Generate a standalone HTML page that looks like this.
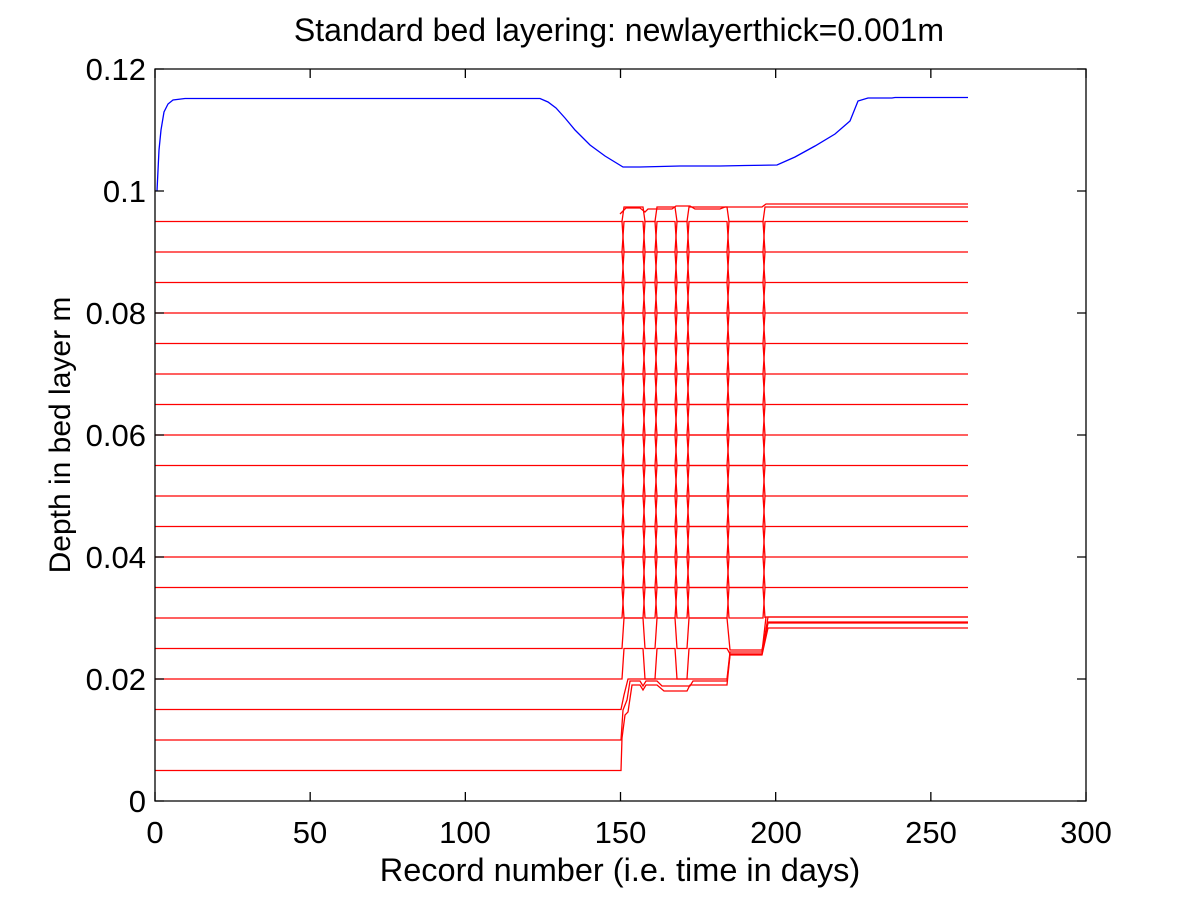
<!DOCTYPE html>
<html><head><meta charset="utf-8"><style>
html,body{margin:0;padding:0;background:#fff}
svg text{font-family:"Liberation Sans",sans-serif;fill:#000}
</style></head><body>
<svg id="s" width="1200" height="900" viewBox="0 0 1200 900" xmlns="http://www.w3.org/2000/svg">
<rect x="0" y="0" width="1200" height="900" fill="#fff"/>
<g id="data" fill="none" stroke-width="1.3"></g>
<path d="M157,191 L159,150 L161,130 L164,112 L168,104 L173,100 L185,98.5 L540,98.5 L548,102 L556,108 L565,118 L575,130 L590,145 L605,156 L623,167 L640,167 L660,166.5 L680,166 L700,166 L720,166 L745,165.5 L777,165 L795,157 L815,146 L835,134 L850,121 L858,101 L868,98 L892,98 L895,97.5 L968,97.5" fill="none" stroke="#0000ff" stroke-width="1.3"/>
<g id="axes" stroke="#000" stroke-width="1.3" fill="none"></g>
<g font-size="31">
<text x="155" y="843" text-anchor="middle">0</text>
<text x="310" y="843" text-anchor="middle">50</text>
<text x="465" y="843" text-anchor="middle">100</text>
<text x="620.5" y="843" text-anchor="middle">150</text>
<text x="776" y="843" text-anchor="middle">200</text>
<text x="931" y="843" text-anchor="middle">250</text>
<text x="1086" y="843" text-anchor="middle">300</text>
<text x="146" y="812" text-anchor="end">0</text>
<text x="146" y="690" text-anchor="end">0.02</text>
<text x="146" y="568" text-anchor="end">0.04</text>
<text x="146" y="446" text-anchor="end">0.06</text>
<text x="146" y="324" text-anchor="end">0.08</text>
<text x="146" y="202" text-anchor="end">0.1</text>
<text x="146" y="80" text-anchor="end">0.12</text>
</g>
<text x="620" y="881" font-size="32.5" text-anchor="middle">Record number (i.e. time in days)</text>
<text x="619" y="41" font-size="32" text-anchor="middle">Standard bed layering: newlayerthick=0.001m</text>
<text transform="translate(70,435) rotate(-90)" font-size="30" text-anchor="middle">Depth in bed layer m</text>
</svg>
<script>
var ns="http://www.w3.org/2000/svg";
var ax=document.getElementById("axes");
function P(d,par,c){var p=document.createElementNS(ns,"path");p.setAttribute("d",d);if(c)p.setAttribute("stroke",c);par.appendChild(p);}
P("M155,69 H1086 V801 H155 Z",ax);
for(var i=0;i<=6;i++){var x=155+i*155.17;P("M"+x+",801 v-9 M"+x+",69 v9",ax);var y=801-i*122;P("M155,"+y+" h9 M1086,"+y+" h-9",ax);}
var g=document.getElementById("data");
var R="#ff0000";
var gaps=[[622,630],[640,645],[655,664],[673,677],[687,698],[727,729],[763,769]];
function Y(k){return 801-30.5*k;}
for(var k=6;k<=19;k++){
  var y0=Y(k),y1=(k==19)?207:Y(k+1),d="M155,"+y0,up=false;
  for(var j=0;j<gaps.length;j++){var a=gaps[j][0],b=gaps[j][1];
    if(!up){d+=" H"+a+" L"+(a+2)+","+y1;}else{d+=" H"+(b-2)+" L"+b+","+y0;}
    up=!up;}
  d+=" H968";P(d,g,R);
}
for(var k=6;k<=18;k++){
  var y0=Y(k),y1=Y(k+1),d="M621,"+y1,up=true;
  for(var j=0;j<gaps.length;j++){var a=gaps[j][0],b=gaps[j][1];
    if(up){d+=" H"+a+" L"+(a+2)+","+y0;}else{d+=" H"+(b-2)+" L"+b+","+y1;}
    up=!up;}
  P(d,g,R);
}
for(var k=4;k<=5;k++){
  var y0=Y(k),y1=Y(k+1),d="M155,"+y0,up=false;
  for(var j=0;j<5;j++){var a=gaps[j][0],b=gaps[j][1];
    if(!up){d+=" H"+a+" L"+(a+2)+","+y1;}else{d+=" H"+(b-2)+" L"+b+","+y0;}
    up=!up;}
  d+=" H727 L730,"+(k==4?654:650)+" H762 L768,"+(k==4?617:622)+" H968";P(d,g,R);
}
P("M155,770.5 H621 L622,738 L625,715 L628,712 L632,685 H640 L643,690 L646,685 H657 L664,691 H687 L690,685 H727 L730,655 H762 L768,628 H968",g,R);
P("M155,740 H621 L623,710 L627,700 L630,681 H640 L643,686 L646,681 H657 L662,686 H690 L693,681 H727 L730,654 H762 L768,623 H968",g,R);
P("M155,709.5 H621 L624,695 L628,679 H727 L730,652 H762 L766,617 H968",g,R);
P("M620,214 L626,208 H640 L645,212 L648,209 H672 L676,206 H690 L695,209 H720 L725,207 H762 L766,204 H968",g,R);
</script>
</body></html>
